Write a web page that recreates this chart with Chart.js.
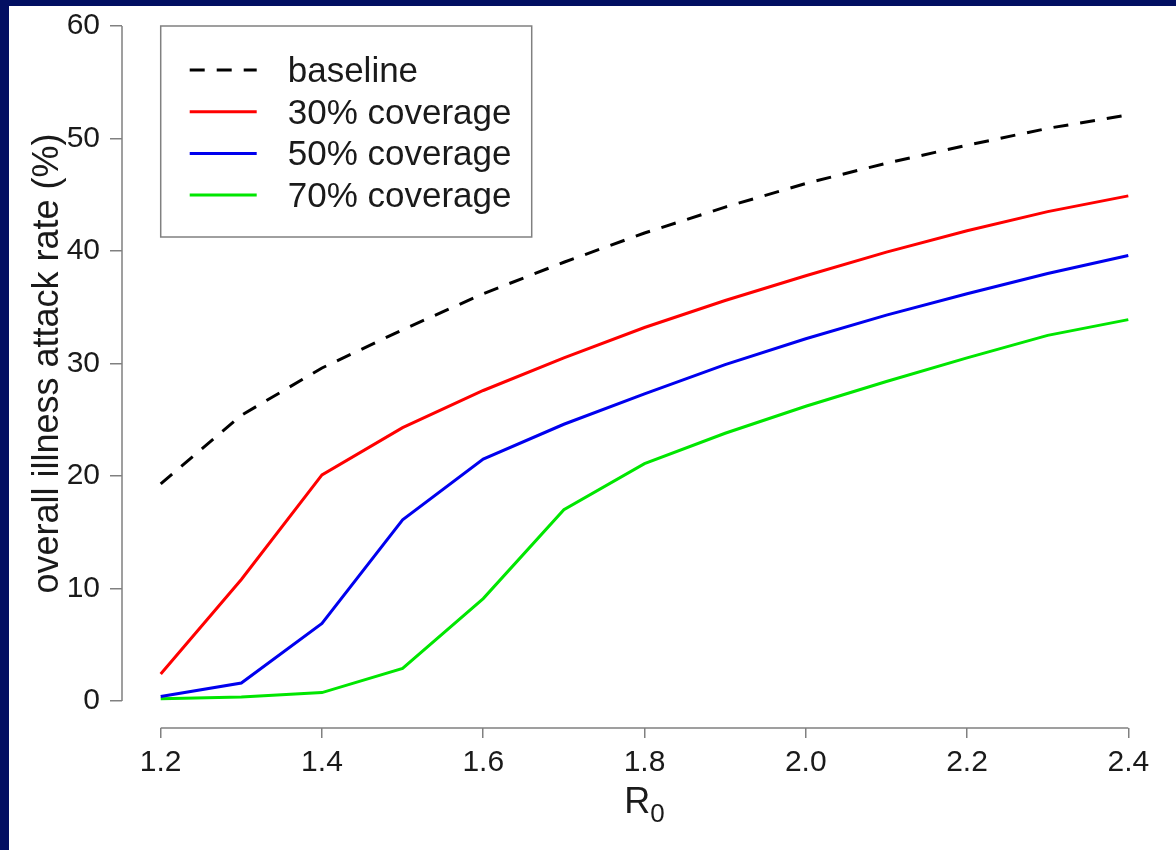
<!DOCTYPE html>
<html>
<head>
<meta charset="utf-8">
<script src="https://cdn.jsdelivr.net/npm/chart.js@4.4.1/dist/chart.umd.min.js"></script>
<style>
  html, body { margin: 0; padding: 0; }
  body { width: 1176px; height: 850px; background: #020f62; position: relative; overflow: hidden; }
  .panel { position: absolute; left: 9px; top: 6px; width: 1167px; height: 844px; background: #fff; }
</style>
</head>
<body>
<div class="panel"><canvas id="myChart"></canvas></div>
<script>
// R0 values on the x axis
const r0Values = [1.2, 1.3, 1.4, 1.5, 1.6, 1.7, 1.8, 1.9, 2.0, 2.1, 2.2, 2.3, 2.4];

// overall illness attack rate (%) per scenario
const baseline = [19.3, 25.4, 29.6, 33.0, 36.2, 39.0, 41.6, 43.9, 46.0, 47.8, 49.4, 50.9, 52.1];
const cov30 = [2.4, 10.8, 20.1, 24.3, 27.6, 30.5, 33.2, 35.6, 37.8, 39.9, 41.8, 43.5, 44.9];
const cov50 = [0.4, 1.6, 6.9, 16.1, 21.5, 24.6, 27.3, 29.9, 32.2, 34.3, 36.2, 38.0, 39.6];
const cov70 = [0.2, 0.35, 0.75, 2.9, 9.1, 17.0, 21.1, 23.8, 26.2, 28.4, 30.5, 32.5, 33.9];

const seriesNames = ['baseline', '30% coverage', '50% coverage', '70% coverage'];

// tick labels
const xTicks = [1.2, 1.4, 1.6, 1.8, 2.0, 2.2, 2.4];
const yTicks = [0, 10, 20, 30, 40, 50, 60];

const FONT = '"Liberation Sans", Arial, Helvetica, sans-serif';
const TEXT = '#1a1a1a';
const AXIS = '#808080';

function pts(values) {
    return r0Values.map((x, i) => ({ x: x, y: values[i] }));
}

// axis lines, axis titles and the boxed legend, drawn the way R does them
const rStyle = {
    id: 'rStyle',
    afterDraw(chart) {
        const { ctx, chartArea, scales: { x, y } } = chart;
        ctx.save();

        ctx.strokeStyle = AXIS;
        ctx.lineWidth = 1.5;
        ctx.beginPath();
        ctx.moveTo(chartArea.left, y.getPixelForValue(yTicks[0]));
        ctx.lineTo(chartArea.left, y.getPixelForValue(yTicks[yTicks.length - 1]));
        ctx.moveTo(x.getPixelForValue(xTicks[0]), chartArea.bottom);
        ctx.lineTo(x.getPixelForValue(xTicks[xTicks.length - 1]), chartArea.bottom);
        ctx.stroke();

        // y title, centred on the whole plot region
        ctx.fillStyle = TEXT;
        ctx.font = '36px ' + FONT;
        ctx.textAlign = 'center';
        ctx.textBaseline = 'alphabetic';
        const midY = (y.getPixelForValue(-2.4) + y.getPixelForValue(62.4)) / 2;
        ctx.save();
        ctx.translate(49, midY);
        ctx.rotate(-Math.PI / 2);
        ctx.fillText('overall illness attack rate (%)', 0, 0);
        ctx.restore();

        // x title R0 with subscript
        ctx.textAlign = 'left';
        ctx.font = '36px ' + FONT;
        const wR = ctx.measureText('R').width;
        ctx.font = '26px ' + FONT;
        const w0 = ctx.measureText('0').width;
        const midX = (chartArea.left + chartArea.right) / 2;
        const startX = midX - (wR + w0) / 2;
        ctx.font = '36px ' + FONT;
        ctx.fillText('R', startX, 807);
        ctx.font = '26px ' + FONT;
        ctx.fillText('0', startX + wR, 816);

        // legend
        const left = x.getPixelForValue(r0Values[0]);
        const top = y.getPixelForValue(yTicks[yTicks.length - 1]);
        ctx.fillStyle = '#fff';
        ctx.fillRect(left, top, 371, 211);
        ctx.strokeStyle = AXIS;
        ctx.lineWidth = 1.5;
        ctx.strokeRect(left, top, 371, 211);
        chart.data.datasets.forEach((ds, i) => {
            const cy = top + 44 + i * 41.7;
            ctx.setLineDash(ds.borderDash || []);
            ctx.strokeStyle = ds.borderColor;
            ctx.lineWidth = ds.borderWidth;
            ctx.beginPath();
            ctx.moveTo(left + 29, cy);
            ctx.lineTo(left + 96, cy);
            ctx.stroke();
            ctx.setLineDash([]);
            ctx.fillStyle = TEXT;
            ctx.font = '35px ' + FONT;
            ctx.textBaseline = 'alphabetic';
            ctx.fillText(ds.label, left + 127, cy + 12);
        });

        ctx.restore();
    }
};

const ctx = document.getElementById('myChart').getContext('2d');
const data = {
    datasets: [
        { label: seriesNames[0], data: pts(baseline), borderColor: '#000000', borderWidth: 3, borderDash: [15, 12] },
        { label: seriesNames[1], data: pts(cov30), borderColor: '#ff0000', borderWidth: 3 },
        { label: seriesNames[2], data: pts(cov50), borderColor: '#0000ee', borderWidth: 3 },
        { label: seriesNames[3], data: pts(cov70), borderColor: '#00e600', borderWidth: 3 }
    ]
};

const options = {
    responsive: true,
    maintainAspectRatio: false,
    animation: false,
    layout: { padding: { top: 20, right: 9, left: 0, bottom: 0 } },
    elements: { point: { radius: 0 }, line: { tension: 0, borderCapStyle: 'butt' } },
    plugins: { legend: { display: false }, tooltip: { enabled: false } },
    scales: {
        x: {
            type: 'linear',
            min: 1.152,
            max: 2.448,
            afterBuildTicks: (scale) => { scale.ticks = xTicks.map(v => ({ value: v })); },
            afterFit: (scale) => {
                scale.height = 122;
                scale.paddingLeft = 0;
                scale.paddingRight = 0;
            },
            border: { display: false },
            grid: { drawOnChartArea: false, drawTicks: true, tickLength: 10, color: AXIS, lineWidth: 1.5 },
            ticks: {
                padding: 7,
                maxRotation: 0,
                autoSkip: false,
                color: TEXT,
                font: { family: FONT, size: 30 },
                callback: (v) => Number(v).toFixed(1)
            }
        },
        y: {
            min: -2.4,
            max: 60,
            afterBuildTicks: (scale) => { scale.ticks = yTicks.map(v => ({ value: v })); },
            afterFit: (scale) => {
                scale.width = 113;
                scale.paddingTop = 0;
                scale.paddingBottom = 0;
            },
            border: { display: false },
            grid: { drawOnChartArea: false, drawTicks: true, tickLength: 12, color: AXIS, lineWidth: 1.5 },
            ticks: {
                padding: 10,
                color: TEXT,
                font: { family: FONT, size: 30 },
                callback: (v) => String(v)
            }
        }
    }
};

const myChart = new Chart(ctx, {
    type: 'line',
    data: data,
    options: options,
    plugins: [rStyle]
});
</script>
</body>
</html>
